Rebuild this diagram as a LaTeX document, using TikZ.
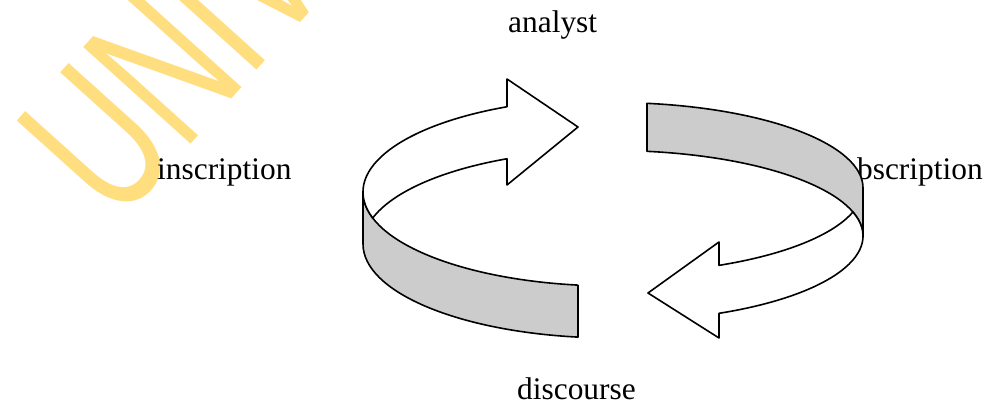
\documentclass[tikz,border=0pt]{standalone}
\usepackage{fontspec}
\setmainfont{Liberation Serif}
\newfontfamily\wmfont{Liberation Sans}
\definecolor{wmyellow}{RGB}{255,222,128}
\begin{document}
\begin{tikzpicture}[x=1pt, y=1pt, line join=round,
    word/.style={anchor=base west, inner sep=0pt, font=\fontsize{31.4}{36}\selectfont},
    band/.style={draw, line width=1.6pt, fill=black!20},
    face/.style={draw, line width=1.6pt, fill=white}]
  \useasboundingbox (0,0) rectangle (986,404);
  % ---- watermark ----
  \node[anchor=base west, inner sep=0pt, text=wmyellow, rotate=48, xscale=0.65,
        font=\wmfont\fontsize{210}{210}\selectfont] (wm) at (117,178) {UNIV};
  % ---- labels ----
  \node[word] (analyst) at (508,371) {analyst};
  \node[word] (inscription) at (157,224) {inscription};
  \node[word] (subscription) at (829,224) {subscription};
  \node[word] (discourse) at (517,4) {discourse};
  % ---- left arrow (upper half of the cycle) ----
  \draw[band] (363,212)
      arc[start angle=180, end angle=262.15, x radius=249pt, y radius=94pt]
      -- (578,66.88)
      arc[start angle=262.15, end angle=180, x radius=249pt, y radius=94pt] -- cycle;
  \draw[face] (507,245.24) -- (507,219) -- (578,277) -- (507,325) -- (507,297.24)
      arc[start angle=114.94, end angle=196.06, x radius=249pt, y radius=94pt]
      arc[start angle=163.94, end angle=114.94, x radius=249pt, y radius=94pt] -- cycle;
  % ---- right arrow (lower half of the cycle) ----
  \draw[band] (646.98,300.67)
      arc[start angle=81.99, end angle=0, x radius=251pt, y radius=85.5pt]
      -- (863,168)
      arc[start angle=0, end angle=81.99, x radius=251pt, y radius=85.5pt] -- cycle;
  \draw[face] (719,138.66) -- (719,162) -- (648,111) -- (719,66) -- (719,90.66)
      arc[start angle=295.23, end angle=376.30, x radius=251pt, y radius=85.5pt]
      arc[start angle=343.70, end angle=295.23, x radius=251pt, y radius=85.5pt] -- cycle;
\end{tikzpicture}
\end{document}
